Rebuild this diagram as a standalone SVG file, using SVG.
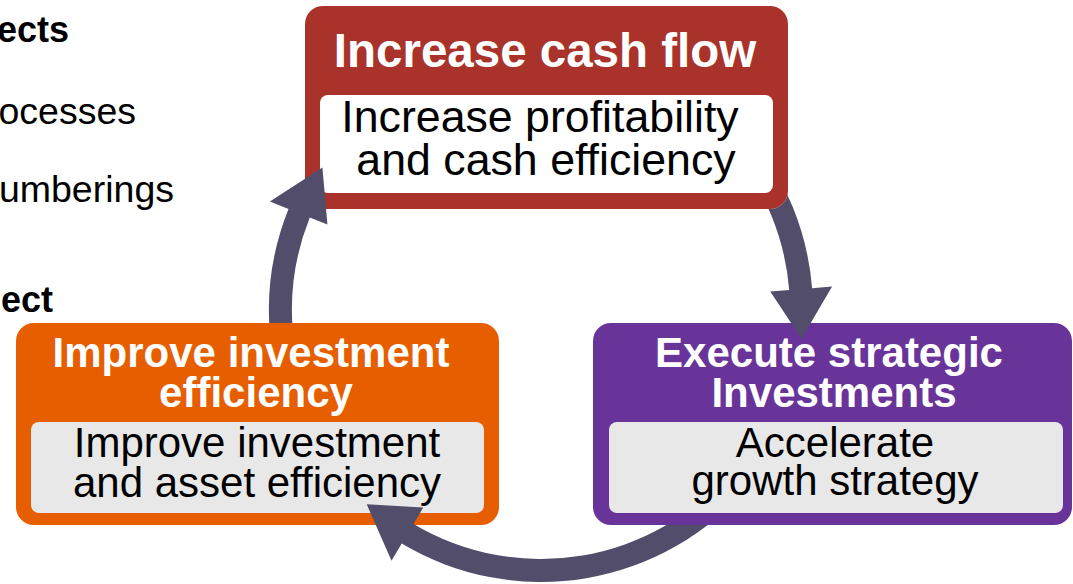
<svg xmlns="http://www.w3.org/2000/svg" width="1073" height="584" viewBox="0 0 1073 584">
  <style>
    .side { font-family: "Liberation Sans", Arial, sans-serif; font-size: 37.5px; fill: #000; }
    .side-b { font-weight: bold; font-size: 36px; }
    .title { font-family: "Liberation Sans", Arial, sans-serif; font-weight: bold; font-size: 42px; fill: #fff; text-anchor: middle; }
    .sub { font-family: "Liberation Sans", Arial, sans-serif; font-size: 42px; fill: #000; text-anchor: middle; }
    .title-lg { font-size: 47.5px; }
    .sub-lg { font-size: 44.7px; }
    .inner { fill: #e8e8e8; }
    .arrow { fill: #524d6b; }
  </style>
  <defs>
    <!-- each arrow starts underneath the box it leaves -->
    <mask id="m-red" maskUnits="userSpaceOnUse" x="0" y="0" width="1073" height="584">
      <rect width="1073" height="584" fill="#fff"/>
      <rect x="305" y="6" width="483" height="203" rx="18" fill="#000"/>
    </mask>
    <mask id="m-purple" maskUnits="userSpaceOnUse" x="0" y="0" width="1073" height="584">
      <rect width="1073" height="584" fill="#fff"/>
      <rect x="593" y="323" width="479" height="202" rx="18" fill="#000"/>
    </mask>
    <mask id="m-orange" maskUnits="userSpaceOnUse" x="0" y="0" width="1073" height="584">
      <rect width="1073" height="584" fill="#fff"/>
      <rect x="16" y="323" width="483" height="202" rx="18" fill="#000"/>
    </mask>
  </defs>

  <rect width="1073" height="584" fill="#fff"/>

  <!-- slide text running off the left edge -->
  <g id="side-text">
    <text class="side side-b" x="69" y="42" text-anchor="end">ects</text>
    <text class="side" x="136" y="124" text-anchor="end">ocesses</text>
    <text class="side" x="174" y="202" text-anchor="end">umberings</text>
    <text class="side side-b" x="53" y="312" text-anchor="end">ect</text>
  </g>

  <g id="node-cash-flow">
    <rect x="305" y="6" width="483" height="203" rx="18" fill="#a9322a"/>
    <rect x="320" y="95" width="453" height="98" rx="8" fill="#fff"/>
    <text class="title title-lg" x="545" y="67">Increase cash flow</text>
    <text class="sub sub-lg" x="540" y="132">Increase profitability</text>
    <text class="sub sub-lg" x="546" y="175">and cash efficiency</text>
  </g>

  <g id="node-strategic">
    <rect x="593" y="323" width="479" height="202" rx="18" fill="#68349a"/>
    <rect class="inner" x="609" y="422" width="454" height="91" rx="8"/>
    <text class="title" x="829" y="367">Execute strategic</text>
    <text class="title" x="834" y="407">Investments</text>
    <text class="sub" x="835" y="457">Accelerate</text>
    <text class="sub" x="835" y="495">growth strategy</text>
  </g>

  <g id="node-investment">
    <rect x="16" y="323" width="483" height="202" rx="18" fill="#e65e00"/>
    <rect class="inner" x="31" y="422" width="453" height="91" rx="8"/>
    <text class="title" x="251" y="367">Improve investment</text>
    <text class="title" x="256" y="407">efficiency</text>
    <text class="sub" x="257" y="457">Improve investment</text>
    <text class="sub" x="257" y="497">and asset efficiency</text>
  </g>

  <!-- curved arrows around a shared circle centred at (541,310) -->
  <g id="connectors">
    <path class="arrow" mask="url(#m-red)" d="M 749.4 135.2 A 272 272 0 0 1 812.1 288.2 L 832.1 286.6 L 801.5 338.7 L 770.3 291.6 L 789.2 290.0 A 249 249 0 0 0 731.7 149.9 Z"/>
    <path class="arrow" mask="url(#m-purple)" d="M 749.4 484.8 A 272 272 0 0 1 401.7 543.6 L 391.5 560.8 L 366.7 504.3 L 423.2 507.6 L 413.5 523.9 A 249 249 0 0 0 731.7 470.1 Z"/>
    <path class="arrow" mask="url(#m-orange)" d="M 273.1 357.2 A 272 272 0 0 1 288.5 209.0 L 269.9 201.6 L 322.4 167.5 L 327.4 224.6 L 309.8 217.5 A 249 249 0 0 0 295.8 353.2 Z"/>
  </g>
</svg>
